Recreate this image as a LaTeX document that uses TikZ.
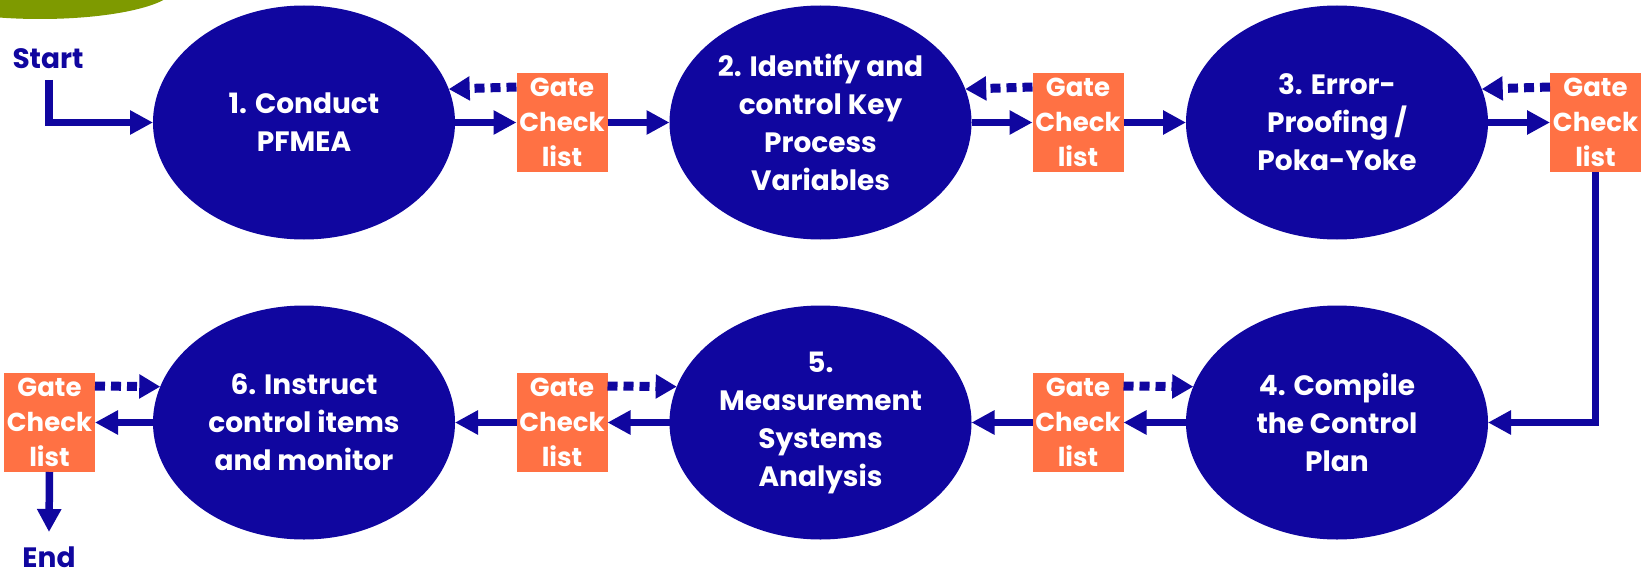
\documentclass[tikz,border=0pt]{standalone}
\usepackage{fontspec}
\setmainfont{Poppins}
\usetikzlibrary{arrows.meta,shapes.geometric}
\definecolor{navy}{HTML}{10069F}
\definecolor{gateorange}{HTML}{FF7144}
\definecolor{leafgreen}{HTML}{7E9A00}
\tikzset{
  stage/.style={ellipse, fill=navy, minimum width=302pt, minimum height=234pt,
    inner sep=0pt, outer sep=0pt, text=white, align=center,
    font=\bfseries\fontsize{28}{38}\selectfont},
  gate/.style={rectangle, fill=gateorange, minimum width=91pt, minimum height=99pt,
    inner sep=0pt, outer sep=0pt, text=white, align=center,
    font=\bfseries\fontsize{26}{35}\selectfont},
  flow/.style={draw=navy, line width=7.5pt, -{Triangle[length=23pt,width=23pt]}},
  back/.style={draw=navy, line width=9pt, dash pattern=on 10pt off 6pt,
    -{Triangle[length=21pt,width=23pt]}},
  term/.style={text=navy, inner sep=0pt, font=\bfseries\fontsize{28}{34}\selectfont}
}
\begin{document}
\begin{tikzpicture}[x=1pt,y=-1pt]
  \useasboundingbox (0,0) rectangle (1652,578);
  \begin{scope}
    \clip (0,0) rectangle (1652,578);
    \fill[leafgreen] (40,-13) ellipse [x radius=135, y radius=32];
  \end{scope}

  % process stages
  \node[stage] (e1) at (304,122.5)   {1. Conduct\\PFMEA};
  \node[stage] (e2) at (820.5,122.5) {2. Identify and\\control Key\\Process\\Variables};
  \node[stage] (e3) at (1337,122.5)  {3. Error-\\Proofing /\\Poka-Yoke};
  \node[stage] (e4) at (1337,422.5)  {4. Compile\\the Control\\Plan};
  \node[stage] (e5) at (820.5,422.5) {5.\\Measurement\\Systems\\Analysis};
  \node[stage] (e6) at (304,422.5)   {6. Instruct\\control items\\and monitor};

  % gate checklists
  \node[gate] (g1) at (562,122.5)    {Gate\\Check\\list};
  \node[gate] (g2) at (1078,122.5)   {Gate\\Check\\list};
  \node[gate] (g3) at (1595.5,122.5) {Gate\\Check\\list};
  \node[gate] (g4) at (1078,422.5)   {Gate\\Check\\list};
  \node[gate] (g5) at (562,422.5)    {Gate\\Check\\list};
  \node[gate] (g6) at (49.5,422.5)   {Gate\\Check\\list};

  % start and end
  \node[term] (start) at (48,59) {Start};
  \node[term] (end) at (49,557) {End};
  \coordinate (s0) at (49,80);
  \coordinate (s1) at (49,532);

  % forward flow
  \draw[flow] (s0) |- (e1.west);
  \draw[flow] (e1.east) -- (g1.west);
  \draw[flow] (g1.east) -- (e2.west);
  \draw[flow] (e2.east) -- (g2.west);
  \draw[flow] (g2.east) -- (e3.west);
  \draw[flow] (e3.east) -- (g3.west);
  \draw[flow] (g3.south) |- (e4.east);
  \draw[flow] (e4.west) -- (g4.east);
  \draw[flow] (g4.west) -- (e5.east);
  \draw[flow] (e5.west) -- (g5.east);
  \draw[flow] (g5.west) -- (e6.east);
  \draw[flow] (e6.west) -- (g6.east);
  \draw[flow] (g6.south) -- (s1);

  % feedback from the gates
  \draw[back] ([yshift=35.5pt]g1.west) -- (e1.13.6);
  \draw[back] ([yshift=35.5pt]g2.west) -- (e2.13.6);
  \draw[back] ([yshift=35.5pt]g3.west) -- (e3.13.6);
  \draw[back] ([yshift=36.5pt]g4.east) -- (e4.166.1);
  \draw[back] ([yshift=36.5pt]g5.east) -- (e5.166.1);
  \draw[back] ([yshift=36.5pt]g6.east) -- (e6.166.1);
\end{tikzpicture}
\end{document}
